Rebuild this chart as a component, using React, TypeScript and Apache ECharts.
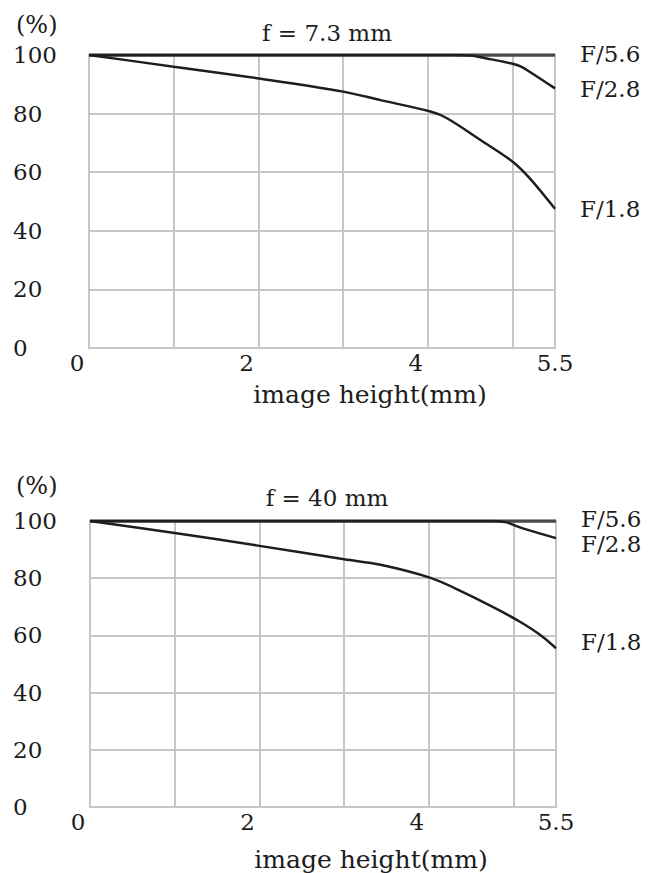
import { useEffect, useRef } from "react";
import * as echarts from "echarts";

// ---- data ----
const xLabelsShown = [0, 2, 4, 5.5];
const seriesNames = ["F/5.6", "F/2.8", "F/1.8"];
const titles = ["f = 7.3 mm", "f = 40 mm"];
const unitLabel = "(%)";
const xName = "image height(mm)";

// f = 7.3 mm
const top56: number[][] = [[0, 100], [5.5, 100]];
const top28: number[][] = [[0, 100], [4.3, 100], [4.5, 99.8], [4.75, 98.5], [5.0, 97], [5.1, 96], [5.2, 94.3], [5.5, 88.6]];
const top18: number[][] = [[0, 100], [1, 96], [2, 92], [3, 87.5], [3.44, 84.6], [4.03, 80.7], [4.22, 78.5], [4.62, 71], [5.0, 63.6], [5.2, 58], [5.5, 47.5]];

// f = 40 mm
const bot56: number[][] = [[0, 100], [5.5, 100]];
const bot28: number[][] = [[0, 100], [4.7, 100], [4.9, 99.6], [5.1, 97.5], [5.5, 94]];
const bot18: number[][] = [[0, 100], [1, 95.8], [2, 91.3], [3, 86.6], [3.43, 84.7], [4.02, 80.1], [4.42, 74.9], [4.81, 69.1], [5.09, 64.5], [5.33, 59.8], [5.5, 55.5]];

const FONT = "DejaVu Serif";
const FS = 23;
const TXT = "#1c1c1c";
const GRIDC = "#c6c6c6";

export default function App() {
  const ref = useRef<HTMLDivElement>(null);
  useEffect(() => {
    if (!ref.current) return;
    const chart = echarts.init(ref.current, undefined, { renderer: "svg" });
    const grids = [
      { left: 89, top: 55, width: 466, height: 293 },
      { left: 90, top: 521, width: 466, height: 288 },
    ];
    const nameGaps = [34, 40];
    const xAxes = grids.map((_, i) => ({
      type: "value",
      gridIndex: i,
      min: 0,
      max: 5.5,
      interval: 1,
      name: xName,
      nameLocation: "middle",
      nameGap: nameGaps[i],
      nameTextStyle: { fontFamily: FONT, fontSize: 25, color: TXT, padding: [0, 0, 0, 96] },
      axisLine: { show: true, lineStyle: { color: GRIDC, width: 2 } },
      axisTick: { show: false },
      splitLine: { show: true, lineStyle: { color: GRIDC, width: 2 } },
      axisLabel: {
        margin: 3,
        showMaxLabel: true,
        formatter: (v: number) =>
          xLabelsShown.includes(v) ? (v === 5.5 ? `{e|${v}}` : `{s|${v}}`) : "",
        rich: {
          s: { fontFamily: FONT, fontSize: FS, color: TXT, padding: [0, 24, 0, 0] },
          e: { fontFamily: FONT, fontSize: FS, color: TXT },
        },
      },
    }));
    const yAxes = grids.map((_, i) => ({
      type: "value",
      gridIndex: i,
      min: 0,
      max: 100,
      interval: 20,
      axisLine: { show: true, lineStyle: { color: GRIDC, width: 2 } },
      axisTick: { show: false },
      splitLine: { show: true, lineStyle: { color: GRIDC, width: 2 } },
      axisLabel: {
        align: "left",
        margin: i === 0 ? 76 : 77,
        fontFamily: FONT,
        fontSize: FS,
        color: TXT,
      },
    }));
    const mk = (
      name: string,
      data: number[][],
      gi: number,
      color: string,
      width: number,
      offset: number[]
    ) => ({
      type: "line",
      name,
      xAxisIndex: gi,
      yAxisIndex: gi,
      data,
      showSymbol: false,
      symbol: "none",
      smooth: 0.35,
      lineStyle: { color, width },
      endLabel: {
        show: true,
        formatter: name,
        distance: 25,
        offset,
        fontFamily: FONT,
        fontSize: FS,
        lineHeight: 19,
        color: TXT,
      },
      z: 3,
    });
    chart.setOption({
      animation: false,
      backgroundColor: "#ffffff",
      title: [
        { text: titles[0], left: 322, top: 16, textAlign: "center", textStyle: { fontFamily: FONT, fontSize: FS, fontWeight: "normal", color: TXT } },
        { text: titles[1], left: 322, top: 481, textAlign: "center", textStyle: { fontFamily: FONT, fontSize: FS, fontWeight: "normal", color: TXT } },
        { text: unitLabel, left: 11, top: 8, textStyle: { fontFamily: FONT, fontSize: 24, fontWeight: "normal", color: TXT } },
        { text: unitLabel, left: 11, top: 469, textStyle: { fontFamily: FONT, fontSize: 24, fontWeight: "normal", color: TXT } },
      ],
      grid: grids.map((g) => ({ ...g, show: true, borderColor: GRIDC, borderWidth: 2, containLabel: false })),
      xAxis: xAxes,
      yAxis: yAxes,
      series: [
        mk(seriesNames[0], top56, 0, "#4a4a4a", 3.5, [0, -1]),
        mk(seriesNames[1], top28, 0, "#1e1e1e", 2.5, [0, 1]),
        mk(seriesNames[2], top18, 0, "#1e1e1e", 2.5, [0, 0]),
        mk(seriesNames[0], bot56, 1, "#4a4a4a", 3.5, [0, -2]),
        mk(seriesNames[1], bot28, 1, "#1e1e1e", 2.5, [0, 6]),
        mk(seriesNames[2], bot18, 1, "#1e1e1e", 2.5, [0, -6]),
      ],
    });
    return () => chart.dispose();
  }, []);
  return (
    <div
      ref={ref}
      style={{ position: "absolute", left: 0, top: 0, width: 652, height: 873, background: "#fff" }}
    />
  );
}
